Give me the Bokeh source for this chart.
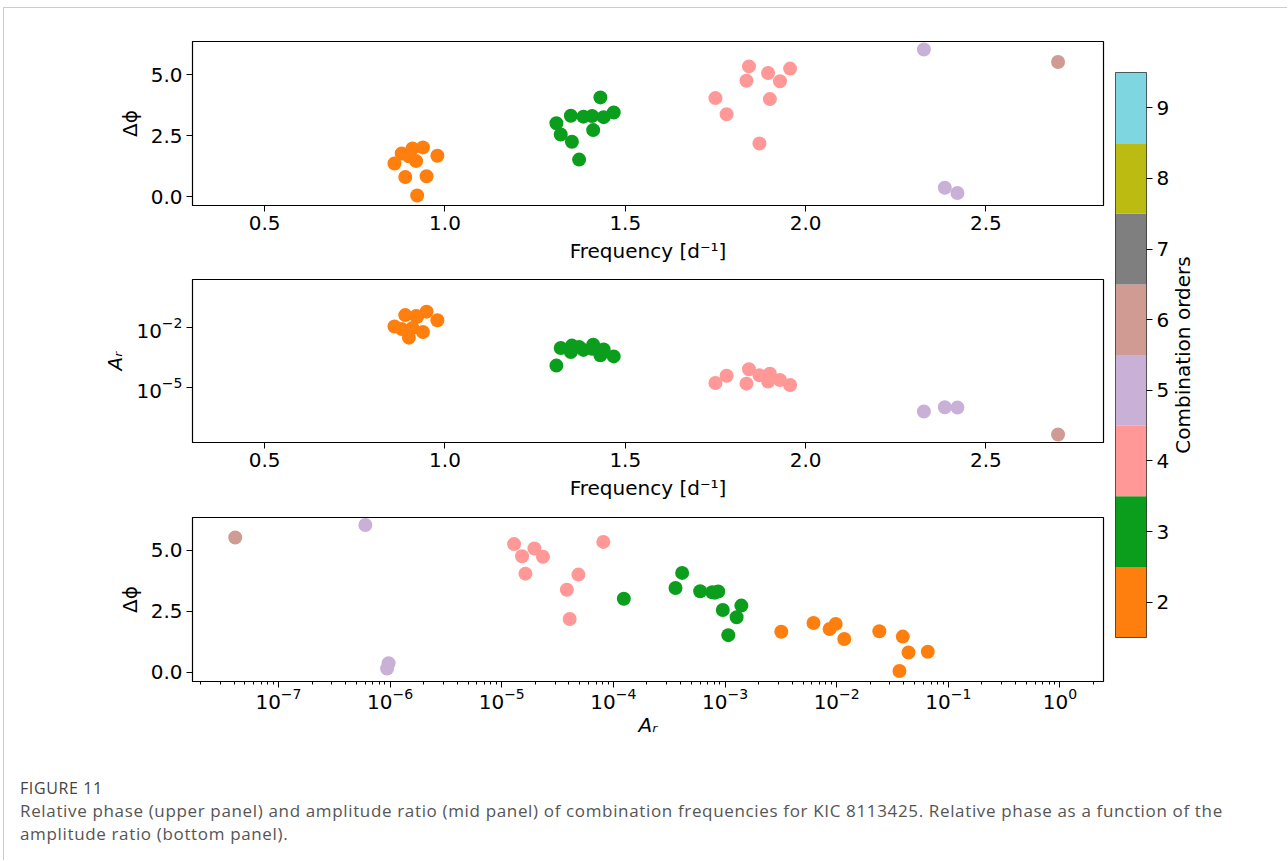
import math
from bokeh.plotting import figure
from bokeh.models import FixedTicker, Range1d, ColumnDataSource, Div, CustomJSTickFormatter
from bokeh.core.properties import value
from bokeh.layouts import row, column
from bokeh.transform import linear_cmap
from bokeh.embed import file_html
from bokeh.resources import INLINE

# ---------------- data ----------------
order = [2] * 10 + [3] * 11 + [4] * 9 + [5] * 3 + [6]
freq = [0.860, 0.890, 0.949, 0.920, 0.923, 0.979, 0.880, 0.910, 0.939, 0.900,
        1.309, 1.321, 1.352, 1.372, 1.349, 1.384, 1.408, 1.411, 1.431, 1.440, 1.468,
        1.843, 1.896, 1.957, 1.836, 1.929, 1.750, 1.901, 1.781, 1.872,
        2.328, 2.386, 2.421,
        2.700]
dphi = [1.36, 0.81, 0.84, 1.46, 0.05, 1.68, 1.77, 1.98, 2.02, 1.66,
        3.01, 2.55, 2.25, 1.52, 3.32, 3.28, 3.31, 2.73, 4.07, 3.26, 3.45,
        5.34, 5.07, 5.25, 4.75, 4.73, 4.04, 4.00, 3.38, 2.18,
        6.03, 0.37, 0.15,
        5.52]
amp = [1.17e-2, 4.4e-2, 6.55e-2, 3.91e-2, 3.65e-2, 2.41e-2, 8.65e-3, 9.8e-3, 6.2e-3, 3.19e-3,
       1.24e-4, 9.55e-4, 1.27e-3, 1.07e-3, 5.99e-4, 7.67e-4, 8.69e-4, 1.40e-3, 4.13e-4, 8.1e-4, 3.6e-4,
       8.13e-5, 1.96e-5, 1.29e-5, 1.52e-5, 2.34e-5, 1.63e-5, 4.86e-5, 3.83e-5, 4.06e-5,
       6.0e-7, 9.7e-7, 9.4e-7,
       4.1e-8]

cb_orders = [2, 3, 4, 5, 6, 7, 8, 9]
cb_colors = ["#ff7f0e", "#0b9e1d", "#ff9896", "#c8b0d6", "#cf9b92",
             "#7f7f7f", "#bbbb12", "#7ed6e1"]
cb_label = "Combination orders"

freq_ticks = [0.5, 1.0, 1.5, 2.0, 2.5]
dphi_ticks = [0.0, 2.5, 5.0]
amp_ticks_mid = [1e-5, 1e-2]
amp_exponents = [-7, -6, -5, -4, -3, -2, -1, 0]

src = ColumnDataSource(dict(order=order, freq=freq, dphi=dphi, amp=amp))
cmap = linear_cmap("order", cb_colors, low=1.5, high=9.5)

FONT = "DejaVu Sans"
FS = "20px"


def style(p):
    p.grid.visible = False
    p.outline_line_color = "black"
    p.outline_line_width = 1.2
    p.background_fill_color = "white"
    p.border_fill_color = "white"
    for ax in p.axis:
        ax.axis_line_color = "black"
        ax.major_tick_line_color = "black"
        ax.minor_tick_line_color = "black"
        ax.major_tick_out = 6
        ax.major_tick_in = 0
        ax.minor_tick_out = 3
        ax.minor_tick_in = 0
        ax.major_label_text_font = FONT
        ax.major_label_text_font_size = FS
        ax.major_label_text_color = "black"
        ax.axis_label_text_font = FONT
        ax.axis_label_text_font_size = FS
        ax.axis_label_text_font_style = "normal"
        ax.axis_label_text_color = "black"
        ax.major_label_standoff = 4
        ax.axis_label_standoff = 6


PW = 1106
common = dict(width=PW, toolbar_location=None, output_backend="svg",
              min_border_left=188, min_border_right=7)

# ---------------- top panel ----------------
p1 = figure(height=262, min_border_top=33, min_border_bottom=65,
            x_range=Range1d(0.30, 2.826), y_range=Range1d(-0.36, 6.36), **common)
p1.scatter("freq", "dphi", source=src, size=14, color=cmap, line_color=None)
style(p1)
p1.xaxis.ticker = FixedTicker(ticks=freq_ticks, minor_ticks=[])
p1.yaxis.ticker = FixedTicker(ticks=dphi_ticks, minor_ticks=[])
p1.xaxis.axis_label = "Frequency [d\u207b\u00b9]"
p1.yaxis.axis_label = "\u0394\u03d5"
p1.xaxis.formatter = CustomJSTickFormatter(code="return tick.toFixed(1);")
p1.yaxis.formatter = CustomJSTickFormatter(code="return tick.toFixed(1);")

# ---------------- middle panel ----------------
p2 = figure(height=235, min_border_top=9, min_border_bottom=63, y_axis_type="log",
            x_range=Range1d(0.30, 2.826), y_range=Range1d(10 ** -7.79, 10 ** 0.44), **common)
p2.scatter("freq", "amp", source=src, size=14, color=cmap, line_color=None)
style(p2)
p2.xaxis.ticker = FixedTicker(ticks=freq_ticks, minor_ticks=[])
p2.yaxis.ticker = FixedTicker(ticks=amp_ticks_mid, minor_ticks=[])
p2.xaxis.axis_label = "Frequency [d\u207b\u00b9]"
p2.yaxis.axis_label = "A\u1d63"
p2.yaxis.axis_label_text_font_style = "italic"
p2.xaxis.formatter = CustomJSTickFormatter(code="return tick.toFixed(1);")

# ---------------- bottom panel ----------------
p3 = figure(height=245, min_border_top=12, min_border_bottom=69, x_axis_type="log",
            x_range=Range1d(10 ** -7.77, 10 ** 0.39), y_range=Range1d(-0.38, 6.34), **common)
p3.scatter("amp", "dphi", source=src, size=14, color=cmap, line_color=None)
style(p3)
major = [10.0 ** e for e in amp_exponents]
minor = [k * 10.0 ** e for e in [-8] + amp_exponents for k in range(2, 10)]
p3.xaxis.ticker = FixedTicker(ticks=major, minor_ticks=minor)
p3.yaxis.ticker = FixedTicker(ticks=dphi_ticks, minor_ticks=[])
p3.yaxis.formatter = CustomJSTickFormatter(code="return tick.toFixed(1);")
p3.xaxis.axis_label = "A\u1d63"
p3.xaxis.axis_label_text_font_style = "italic"
p3.xaxis.major_label_standoff = 0
p3.xaxis.axis_label_standoff = 1
p3.yaxis.axis_label = "\u0394\u03d5"

# ---------------- colour bar ----------------
CBH = 262 + 235 + 245
CB_TOP = 64
CB_FRAME = 565
cb_common = dict(height=CBH, toolbar_location=None, output_backend="svg",
                 min_border_top=CB_TOP, min_border_bottom=CBH - CB_TOP - CB_FRAME,
                 y_range=Range1d(1.5, 9.5))
pcb = figure(width=62, min_border_left=5, min_border_right=25,
             x_range=Range1d(0, 1), x_axis_location=None, y_axis_location="right",
             **cb_common)
cb_src = ColumnDataSource(dict(
    bottom=[o - 0.5 for o in cb_orders], top=[o + 0.5 for o in cb_orders],
    color=cb_colors))
pcb.quad(left=0, right=1, bottom="bottom", top="top", fill_color="color",
         line_color=None, source=cb_src)
style(pcb)
pcb.outline_line_color = "#333333"
pcb.outline_line_width = 1
pcb.yaxis.ticker = FixedTicker(ticks=cb_orders, minor_ticks=[])
pcb.yaxis.axis_line_color = None

# label of the colour bar (reads bottom to top)
plab = figure(width=30, min_border_left=0, min_border_right=0,
              x_range=Range1d(0, 1), x_axis_location=None, y_axis_location=None,
              **cb_common)
plab.grid.visible = False
plab.outline_line_color = None
mid = (min(cb_orders) + max(cb_orders)) / 2
plab.text(x=[0.35], y=[mid], text=[cb_label], angle=math.pi / 2,
          text_align="center", text_baseline="middle",
          text_font=value(FONT), text_font_size=FS, text_color="black")

# ---------------- caption ----------------
caption = Div(
    width=1270, height=100,
    text=(
        '<div style="font-family:\'Open Sans\';padding-left:11px;padding-top:22px;">'
        '<div style="font-size:16px;color:#444;letter-spacing:0.6px;line-height:22px;">FIGURE 11</div>'
        '<div style="font-size:17px;color:#555;letter-spacing:0.65px;line-height:23px;">'
        'Relative phase (upper panel) and amplitude ratio (mid panel) of combination '
        'frequencies for KIC 8113425. Relative phase as a function of the<br>'
        'amplitude ratio (bottom panel).</div></div>'
    ),
)

panels = column(p1, p2, p3, spacing=0)
top = row(panels, pcb, plab, spacing=0)
root = column(top, caption, spacing=0, width=1284, height=853,
              margin=(7, 0, 0, 3),
              styles={"border-top": "1px solid #cccccc", "border-left": "1px solid #cccccc",
                      "background": "white"})

open("out.html", "w").write(file_html(root, INLINE, "Figure 11"))
